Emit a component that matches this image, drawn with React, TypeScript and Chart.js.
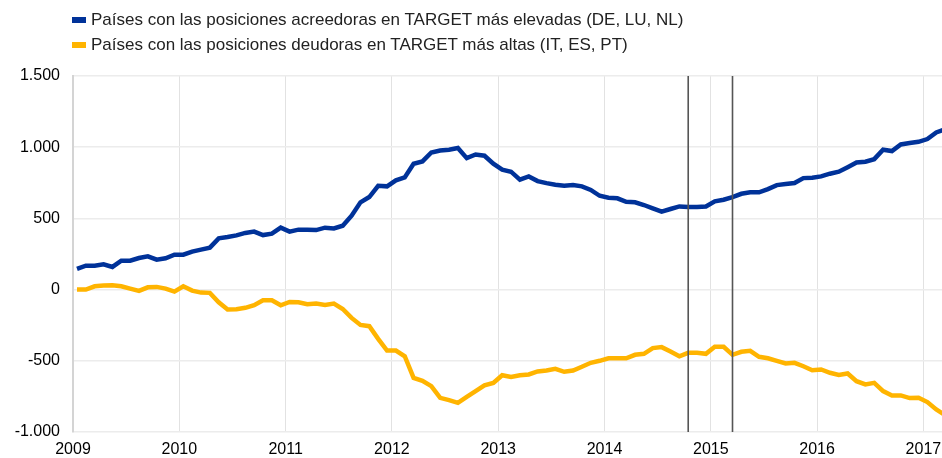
import React, { useEffect, useRef } from "react";
import { Chart, registerables } from "chart.js";

Chart.register(...registerables);

// ---- data (monthly, Jan 2009 – Mar 2017, EUR bn) ----
const START_YEAR = 2009;

const creditorSeries = [
  145, 168, 168, 178, 159, 203, 203, 222, 234, 210, 220, 245,
  245, 267, 281, 295, 360, 369, 381, 398, 407, 383, 393, 435,
  407, 421, 421, 418, 435, 430, 449, 519, 613, 650, 729, 725,
  767, 788, 884, 900, 963, 977, 982, 994, 923, 949, 940, 884,
  842, 828, 772, 795, 762, 748, 736, 729, 734, 725, 700, 659,
  645, 641, 617, 613, 594, 570, 547, 566, 584, 580, 580, 584,
  620, 631, 650, 673, 683, 683, 706, 734, 741, 748, 783, 786,
  795, 814, 828, 860, 893, 898, 916, 982, 973, 1019, 1029, 1038,
  1057, 1104, 1125,
];

const debtorSeries = [
  0, 0, 23, 28, 30, 23, 7, -9, 16, 19, 7, -14,
  23, -7, -21, -23, -89, -140, -138, -128, -110, -75, -75, -110,
  -87, -89, -103, -98, -108, -98, -136, -199, -248, -257, -346, -428,
  -428, -468, -620, -640, -678, -760, -776, -795, -753, -713, -673, -655,
  -601, -613, -601, -596, -575, -568, -556, -577, -568, -542, -514, -500,
  -482, -482, -482, -458, -451, -411, -404, -435, -468, -444, -444, -451,
  -402, -402, -458, -437, -430, -472, -482, -500, -519, -514, -538, -566,
  -561, -584, -599, -589, -643, -666, -655, -713, -743, -743, -762, -760,
  -790, -842, -880,
];

const seriesLabels = [
  "Países con las posiciones acreedoras en TARGET más elevadas (DE, LU, NL)",
  "Países con las posiciones deudoras en TARGET más altas (IT, ES, PT)",
];
const seriesColors = ["#003299", "#FFB400"];

const yTicks = [-1000, -500, 0, 500, 1000, 1500];
const yearLabels = ["2009", "2010", "2011", "2012", "2013", "2014", "2015", "2016", "2017"];
const markerMonths = ["2014-10", "2015-03"];

const months = creditorSeries.map(
  (_, i) => `${START_YEAR + Math.floor(i / 12)}-${String((i % 12) + 1).padStart(2, "0")}`
);

const MID = 0.45; // position of each monthly observation inside its month
const FONT = "'Liberation Sans', Arial, sans-serif";

const fmt = (v: number) => {
  const s = Math.abs(v).toString().replace(/\B(?=(\d{3})+(?!\d))/g, ".");
  return (v < 0 ? "-" : "") + s;
};

const markerPlugin = {
  id: "markerLines",
  afterDatasetsDraw(chart: any) {
    const { ctx, chartArea, scales } = chart;
    ctx.save();
    ctx.strokeStyle = "#555555";
    ctx.lineWidth = 1.6;
    markerMonths.forEach((m) => {
      const idx = months.indexOf(m);
      if (idx < 0) return;
      const x = scales.x.getPixelForValue(idx + MID);
      ctx.beginPath();
      ctx.moveTo(x, chartArea.top);
      ctx.lineTo(x, chartArea.bottom);
      ctx.stroke();
    });
    ctx.restore();
  },
};

export default function App() {
  const ref = useRef<HTMLCanvasElement | null>(null);

  useEffect(() => {
    if (!ref.current) return;
    const toPoints = (arr: number[]) => arr.map((y, i) => ({ x: i + MID, y }));
    const chart = new Chart(ref.current, {
      type: "line",
      data: {
        datasets: [
          {
            label: seriesLabels[0],
            data: toPoints(creditorSeries),
            borderColor: seriesColors[0],
            backgroundColor: seriesColors[0],
            borderWidth: 4.5,
            pointRadius: 0,
            tension: 0,
          },
          {
            label: seriesLabels[1],
            data: toPoints(debtorSeries),
            borderColor: seriesColors[1],
            backgroundColor: seriesColors[1],
            borderWidth: 4.5,
            pointRadius: 0,
            tension: 0,
          },
        ],
      },
      options: {
        animation: false,
        responsive: false,
        layout: { padding: { top: 76, left: 0, right: 0, bottom: 0 } },
        plugins: { legend: { display: false }, tooltip: { enabled: false } },
        scales: {
          x: {
            type: "linear",
            min: 0,
            max: 98.1,
            afterBuildTicks: (scale: any) => {
              scale.ticks = yearLabels.map((_, k) => ({ value: k * 12 }));
            },
            afterFit: (scale: any) => {
              scale.height = 26;
              scale.paddingLeft = 0;
              scale.paddingRight = 0;
            },
            ticks: {
              callback: (v: any) => yearLabels[Math.round(Number(v) / 12)] ?? "",
              color: "#000",
              font: { family: FONT, size: 16 },
              padding: 8,
              maxRotation: 0,
              autoSkip: false,
            },
            grid: { color: "#e2e2e2", lineWidth: 1, drawTicks: false },
            border: { display: false },
          },
          y: {
            min: -1000,
            max: 1500,
            afterBuildTicks: (scale: any) => {
              scale.ticks = yTicks.map((v) => ({ value: v }));
            },
            afterFit: (scale: any) => {
              scale.width = 73;
              scale.paddingTop = 0;
              scale.paddingBottom = 0;
            },
            ticks: {
              callback: (v: any) => fmt(Number(v)),
              color: "#000",
              font: { family: FONT, size: 16 },
              padding: 13,
            },
            grid: { color: "#ececec", lineWidth: 1.5, drawTicks: false },
            border: { display: true, color: "#d4d4d4", width: 2 },
          },
        },
      },
      plugins: [markerPlugin],
    });
    return () => chart.destroy();
  }, []);

  return (
    <div style={{ position: "absolute", left: 0, top: 0, width: 942, height: 458, background: "#fff" }}>
      <canvas ref={ref} width={942} height={458} style={{ position: "absolute", left: 0, top: 0 }} />
      <div style={{ position: "absolute", left: 72, top: 7, fontFamily: FONT, fontSize: 17, color: "#222" }}>
        {seriesLabels.map((lab, k) => (
          <div key={k} style={{ display: "flex", alignItems: "center", height: 25 }}>
            <span style={{ display: "inline-block", width: 14, height: 6, background: seriesColors[k], marginRight: 5 }} />
            <span>{lab}</span>
          </div>
        ))}
      </div>
    </div>
  );
}
